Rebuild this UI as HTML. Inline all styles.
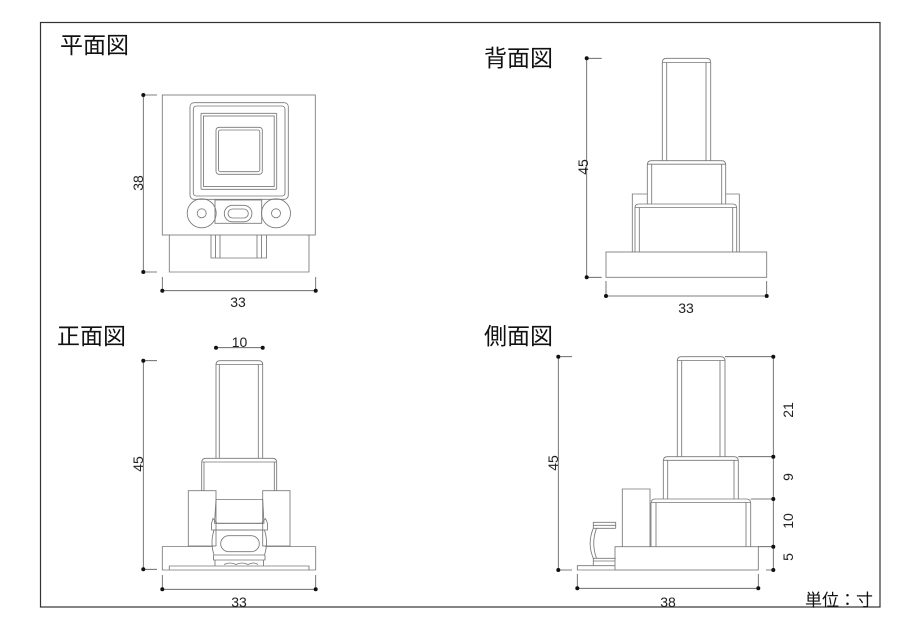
<!DOCTYPE html>
<html><head><meta charset="utf-8"><style>
html,body{margin:0;padding:0;background:#fff;}
svg{display:block;}
.l{fill:none;stroke:#777;stroke-width:0.85;}
.d{fill:none;stroke:#555;stroke-width:0.8;}
.t{font-family:"Liberation Sans","Noto Sans CJK JP",sans-serif;font-size:14px;fill:#222;}
.h{font-family:"Liberation Sans","Noto Sans CJK JP",sans-serif;font-size:23px;fill:#111;}
</style></head><body>
<svg width="900" height="637" viewBox="0 0 900 637" xmlns="http://www.w3.org/2000/svg">
<rect x="0" y="0" width="900" height="637" fill="#fff"/>
<rect x="40.5" y="22.5" width="839.5" height="584.5" fill="none" stroke="#333" stroke-width="1.2"/>

<!-- titles -->
<text class="h" x="60" y="53">平面図</text>
<text class="h" x="484" y="66">背面図</text>
<text class="h" x="57" y="344">正面図</text>
<text class="h" x="484" y="344">側面図</text>
<text class="h" x="805" y="606" style="font-size:17px">単位：寸</text>

<!-- ===== PLAN VIEW ===== -->
<g>
<rect class="l" x="162.3" y="95" width="153" height="140"/>
<path class="l" d="M169.3,235 V272 H309 V235"/>
<path class="l" d="M211,235 V258 H266.5 V235 M215.5,235 V258 M220,235 V258 M257,235 V258 M261.5,235 V258"/>
<rect class="l" x="190" y="102.7" width="98.3" height="96.6" rx="4"/>
<rect class="l" x="193.3" y="106" width="91.7" height="90" rx="3"/>
<rect class="l" x="201" y="113.3" width="75.7" height="76" rx="1"/>
<rect class="l" x="203.5" y="116" width="70.7" height="70.5"/>
<rect class="l" x="216" y="127.3" width="46.3" height="47" rx="3"/>
<rect class="l" x="218.5" y="130" width="41.3" height="41.7" rx="2"/>
<rect class="l" x="215" y="200" width="46.7" height="23.3"/>
<circle class="l" cx="201.7" cy="213.3" r="14.5"/>
<circle class="l" cx="201.7" cy="213.3" r="4.5"/>
<circle class="l" cx="276" cy="213.3" r="14.5"/>
<circle class="l" cx="276" cy="213.3" r="4.5"/>
<rect class="l" x="224.3" y="205.3" width="27.6" height="16.5" rx="8.2"/>
<rect class="l" x="228" y="209" width="20.3" height="9" rx="4.5"/>
<!-- dims -->
<path class="d" d="M143.3,95 V272 M143.3,95 H157 M143.3,272 H157"/>
<circle cx="143.3" cy="95" r="2" fill="#111"/><circle cx="143.3" cy="272" r="2" fill="#111"/>
<path class="d" d="M162.3,290.7 H315.7 M162.3,277 V290.7 M315.7,277 V290.7"/>
<circle cx="162.3" cy="290.7" r="2" fill="#111"/><circle cx="315.7" cy="290.7" r="2" fill="#111"/>
<text class="t" x="238" y="307" text-anchor="middle">33</text>
<text class="t" transform="translate(143,183) rotate(-90)" text-anchor="middle">38</text>
</g>

<!-- ===== BACK VIEW ===== -->
<g>
<path class="l" d="M632.3,252 V194 H647.3 M725.7,194 H739.3 V252"/>
<path class="l" d="M635,252 V208 Q635,204 639,204 H732.7 Q736.7,204 736.7,208 V252 M635,207.5 H736.7 M639.3,207.5 V252 M732.7,207.5 V252"/>
<path class="l" d="M647.3,204 V165 Q647.3,160.7 651.5,160.7 H721.5 Q725.7,160.7 725.7,165 V204 M647.3,164.2 H725.7 M651.7,164.2 V204 M721.7,164.2 V204"/>
<path class="l" d="M662.3,160.7 V62.5 Q662.3,58.3 666.5,58.3 H706.5 Q710.7,58.3 710.7,62.5 V160.7 M662.3,62.5 H710.7 M666.7,62.5 V160.7 M706,62.5 V160.7"/>
<rect class="l" x="606" y="252" width="160.7" height="25.3"/>
<path class="d" d="M586.7,58.3 V277.3 M586.7,58.3 H601.7 M586.7,277.3 H601.7"/>
<circle cx="586.7" cy="58.3" r="2" fill="#111"/><circle cx="586.7" cy="277.3" r="2" fill="#111"/>
<path class="d" d="M606,296 H766.7 M606,281 V296 M766.7,281 V296"/>
<circle cx="606" cy="296" r="2" fill="#111"/><circle cx="766.7" cy="296" r="2" fill="#111"/>
<text class="t" x="686" y="313" text-anchor="middle">33</text>
<text class="t" transform="translate(588,167) rotate(-90)" text-anchor="middle">45</text>
</g>

<!-- ===== FRONT VIEW ===== -->
<g>
<path class="l" d="M216,458.3 V364.8 Q216,360.7 220,360.7 H258.7 Q262.7,360.7 262.7,364.8 V458.3 M216,364.5 H262.7 M219.3,364.5 V458.3 M258.3,364.5 V458.3"/>
<path class="l" d="M201.7,490.7 V462.5 Q201.7,458.3 206,458.3 H272.5 Q276.7,458.3 276.7,462.5 V490.7 M201.7,462 H276.7 M204,462 V490.7 M274.3,462 V490.7"/>
<rect class="l" x="188.3" y="490.7" width="27.7" height="55.3" fill="#fff"/>
<rect class="l" x="262.7" y="490.7" width="27.3" height="55.3" fill="#fff"/>
<path class="l" d="M162.3,546.5 H213 M265,546.5 H315.7 M162.3,546.5 V570 H315.7 V546.5 M169.3,570 V566 H309 V570"/>
<!-- connector -->
<path class="l" d="M216,499.5 H262.7 L264,523.3 H214.5 Z" fill="#fff"/>
<path class="l" d="M211.5,530 V523.3 L213,518.5 L217,523.3 H261.5 L265.5,518.5 L267.5,523.3 V530 Z"/>
<path class="l" d="M214,530 Q210,542.5 214,555 H264.5 Q268.5,542.5 264.5,530 Z"/>
<rect class="l" x="220.7" y="535.7" width="38.6" height="16" rx="8"/>
<path class="l" d="M213.5,555 V560 H265 V555 M215,560 V566 M263.5,560 V566"/>
<path class="l" d="M224,564.5 Q230,561.5 236,564.5 Q242,561.5 248,564.5 Q254,561.5 258,564.5"/>
<!-- dims -->
<path class="d" d="M143.3,360.7 V569.3 M143.3,360.7 H157 M143.3,569.3 H157"/>
<circle cx="143.3" cy="360.7" r="2" fill="#111"/><circle cx="143.3" cy="569.3" r="2" fill="#111"/>
<path class="d" d="M216,347.7 H262.7"/>
<circle cx="216" cy="347.7" r="2" fill="#111"/><circle cx="262.7" cy="347.7" r="2" fill="#111"/>
<text class="t" x="239.5" y="347" text-anchor="middle">10</text>
<path class="d" d="M162.3,589.3 H315.7 M162.3,575 V589.3 M315.7,575 V589.3"/>
<circle cx="162.3" cy="589.3" r="2" fill="#111"/><circle cx="315.7" cy="589.3" r="2" fill="#111"/>
<text class="t" x="239" y="607" text-anchor="middle">33</text>
<text class="t" transform="translate(143,464) rotate(-90)" text-anchor="middle">45</text>
</g>

<!-- ===== SIDE VIEW ===== -->
<g>
<path class="l" d="M677.3,456.7 V360.8 Q677.3,356.7 681.5,356.7 H720.8 Q725,356.7 725,360.8 V456.7 M677.3,360.5 H725 M681.7,360.5 V456.7 M720,360.5 V456.7"/>
<path class="l" d="M663.3,499 V461 Q663.3,456.7 667.5,456.7 H734 Q738.3,456.7 738.3,461 V499 M663.3,460.3 H738.3 M667.7,460.3 V499 M734,460.3 V499"/>
<path class="l" d="M651,546.7 V503.2 Q651,499 655.2,499 H746.5 Q750.7,499 750.7,503.2 V546.7 M651,502.5 H750.7 M656,502.5 V546.7 M746,502.5 V546.7"/>
<path class="l" d="M622.3,546.7 V489 H650 V546.7"/>
<rect class="l" x="615" y="546.7" width="143.3" height="23.3"/>
<path class="l" d="M615,565.7 H577.3 V570 H615"/>
<!-- connector -->
<path class="l" d="M593.3,528.3 V522.3 H615.7 V528.3 M593.3,525.3 H615.7"/>
<path class="l" d="M593.3,528.3 H615.7 M593.3,528.3 Q587,543.3 593.3,558.3 H615.7 M596.5,528.3 Q591,543.3 596.5,558.3"/>
<path class="l" d="M593.3,558.3 V565.7 M593.3,561 H615"/>
<!-- dims -->
<path class="d" d="M558.3,356.7 V570 M558.3,356.7 H572 M558.3,570 H572"/>
<circle cx="558.3" cy="356.7" r="2" fill="#111"/><circle cx="558.3" cy="570" r="2" fill="#111"/>
<path class="d" d="M773.3,356.7 V570 M725,356.7 H773.3 M738.3,456.7 H773.3 M750.7,499 H773.3 M758.3,546.7 H773.3 M766,570 H773.3"/>
<circle cx="773.3" cy="356.7" r="2" fill="#111"/>
<circle cx="773.3" cy="456.7" r="2" fill="#111"/>
<circle cx="773.3" cy="499" r="2" fill="#111"/>
<circle cx="773.3" cy="546.7" r="2" fill="#111"/>
<circle cx="773.3" cy="570" r="2" fill="#111"/>
<text class="t" transform="translate(793,410) rotate(-90)" text-anchor="middle">21</text>
<text class="t" transform="translate(793,477) rotate(-90)" text-anchor="middle">9</text>
<text class="t" transform="translate(793,521) rotate(-90)" text-anchor="middle">10</text>
<text class="t" transform="translate(793,557) rotate(-90)" text-anchor="middle">5</text>
<path class="d" d="M577.3,588.3 H758.3 M577.3,574 V588.3 M758.3,574 V588.3"/>
<circle cx="577.3" cy="588.3" r="2" fill="#111"/><circle cx="758.3" cy="588.3" r="2" fill="#111"/>
<text class="t" x="668" y="607" text-anchor="middle">38</text>
<text class="t" transform="translate(558,463) rotate(-90)" text-anchor="middle">45</text>
</g>
</svg>
</body></html>
